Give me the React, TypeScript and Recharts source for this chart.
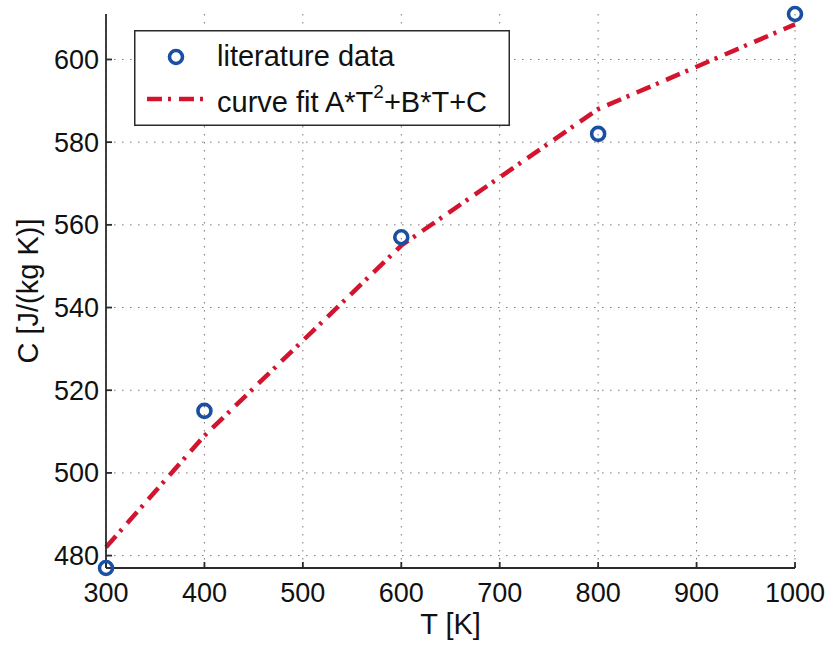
import {
  ComposedChart,
  Line,
  Scatter,
  XAxis,
  YAxis,
  CartesianGrid,
  Legend,
  Label,
} from "recharts";

const FONT = '"Liberation Sans", Arial, Helvetica, sans-serif';
const BLUE = "#1b4fa2";
const RED = "#d3142f";
const AXIS = "#2a2a2a";

// temperatures [K] of the literature points
const temps = [300, 400, 600, 800, 1000];
// heat capacity from the literature
const literatureC = [477, 515, 557, 582, 611];
// quadratic fit evaluated at the same temperatures
const fitC = [482, 509, 555, 588, 608.5];

const xTicks = [300, 400, 500, 600, 700, 800, 900, 1000];
const yTicks = [480, 500, 520, 540, 560, 580, 600];

const litData = temps.map((t, i) => ({ t, c: literatureC[i] }));
const fitData = temps.map((t, i) => ({ t, c: fitC[i] }));

const Ring = (props: any) => {
  const { cx, cy } = props;
  if (cx == null || cy == null) return <g />;
  return (
    <circle cx={cx} cy={cy} r={6.5} fill="none" stroke={BLUE} strokeWidth={3.6} />
  );
};

const renderLegend = () => (
  <svg width={376} height={96} style={{ display: "block" }}>
    <rect x={0.75} y={0.75} width={374.5} height={94.5} fill="#fff" stroke={AXIS} strokeWidth={1.5} />
    <circle cx={42} cy={27} r={6.5} fill="none" stroke={BLUE} strokeWidth={3.6} />
    <text x={83} y={36} fontFamily={FONT} fontSize={29} fill="#111">
      literature data
    </text>
    <line
      x1={13}
      x2={76}
      y1={69}
      y2={69}
      stroke={RED}
      strokeWidth={4.5}
      strokeDasharray="15 6 3 8"
    />
    <text x={83} y={82} fontFamily={FONT} fontSize={29} fill="#111">
      curve fit A*T
      <tspan dy={-14} fontSize={19}>2</tspan>
      <tspan dy={14}>+B*T+C</tspan>
    </text>
  </svg>
);

const noTick = () => <g />;

export default function App() {
  return (
    <div style={{ position: "absolute", left: 0, top: 0 }}>
      <ComposedChart
        width={831}
        height={645}
        margin={{ top: 14, right: 36, bottom: 0, left: 0 }}
        style={{ fontFamily: FONT }}
      >
        <CartesianGrid
          stroke="#777"
          strokeDasharray="1.5 6.5"
          strokeWidth={1}
          verticalValues={xTicks}
          horizontalValues={yTicks}
        />
        <XAxis
          dataKey="t"
          type="number"
          domain={[300, 1000]}
          ticks={xTicks}
          height={77}
          tickSize={-6}
          tickMargin={21}
          axisLine={{ stroke: AXIS, strokeWidth: 1.8 }}
          tickLine={{ stroke: AXIS, strokeWidth: 1.8 }}
          tick={{ fill: "#111", fontSize: 27, fontFamily: FONT }}
        >
          <Label
            content={({ viewBox }: any) => (
              <text
                x={viewBox.x + viewBox.width / 2}
                y={634}
                textAnchor="middle"
                fill="#111"
                fontSize={29}
                fontFamily={FONT}
              >
                T [K]
              </text>
            )}
          />
        </XAxis>
        <XAxis
          xAxisId="top"
          orientation="top"
          type="number"
          dataKey="t"
          domain={[300, 1000]}
          ticks={xTicks}
          height={0}
          tickSize={-6}
          axisLine={{ stroke: AXIS, strokeWidth: 1.8 }}
          tickLine={{ stroke: AXIS, strokeWidth: 1.8 }}
          tick={noTick}
        />
        <YAxis
          type="number"
          domain={[477, 611]}
          ticks={yTicks}
          width={106}
          tickSize={-6}
          tickMargin={13}
          axisLine={{ stroke: AXIS, strokeWidth: 1.8 }}
          tickLine={{ stroke: AXIS, strokeWidth: 1.8 }}
          tick={{ fill: "#111", fontSize: 27, fontFamily: FONT }}
        >
          <Label
            content={({ viewBox }: any) => {
              const cx = viewBox.x + 28;
              const cy = viewBox.y + viewBox.height / 2;
              return (
                <text
                  x={cx}
                  y={cy}
                  transform={`rotate(-90 ${cx} ${cy})`}
                  textAnchor="middle"
                  dominantBaseline="central"
                  fill="#111"
                  fontSize={29}
                  fontFamily={FONT}
                >
                  C [J/(kg K)]
                </text>
              );
            }}
          />
        </YAxis>
        <YAxis
          yAxisId="right"
          orientation="right"
          type="number"
          domain={[477, 611]}
          ticks={yTicks}
          width={0}
          tickSize={-6}
          axisLine={{ stroke: AXIS, strokeWidth: 1.8 }}
          tickLine={{ stroke: AXIS, strokeWidth: 1.8 }}
          tick={noTick}
        />
        <Legend
          layout="vertical"
          align="center"
          verticalAlign="middle"
          content={renderLegend}
          wrapperStyle={{ left: 134, top: 30, width: 376, height: 96 }}
        />
        <Line
          data={fitData}
          dataKey="c"
          name="curve fit"
          type="linear"
          stroke={RED}
          strokeWidth={4.5}
          strokeDasharray="15 6 3 8"
          dot={false}
          activeDot={false}
          isAnimationActive={false}
        />
        <Scatter
          data={litData}
          dataKey="c"
          name="literature data"
          shape={Ring}
          isAnimationActive={false}
        />
      </ComposedChart>
    </div>
  );
}
